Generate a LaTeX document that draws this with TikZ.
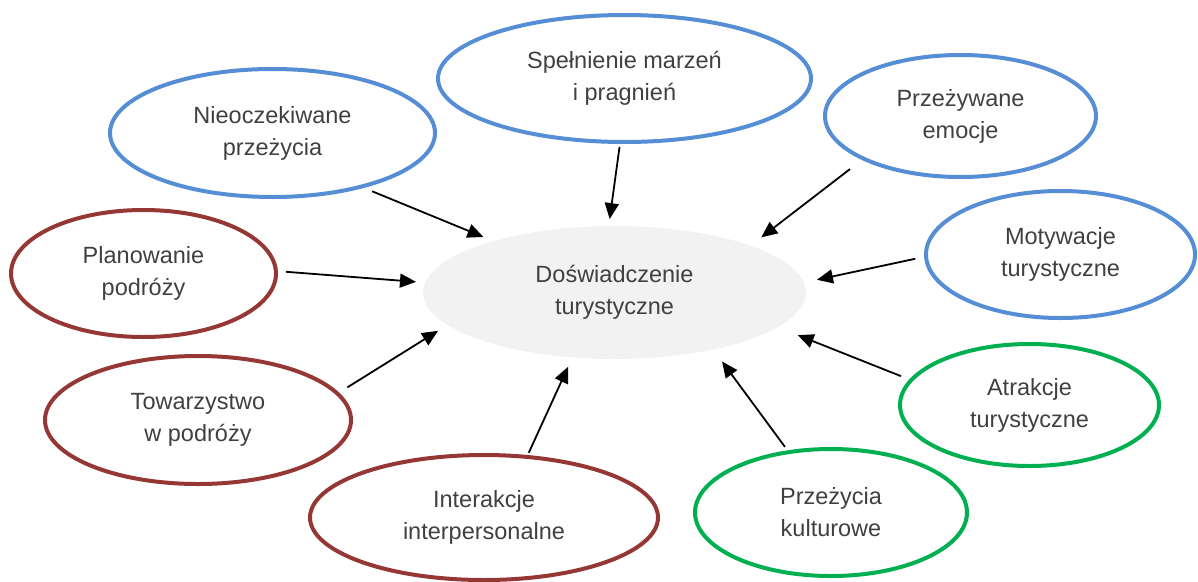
\documentclass[tikz,border=0pt]{standalone}
\usepackage{fontspec}
\setmainfont{Liberation Sans}
\usetikzlibrary{arrows.meta, positioning, shapes.geometric}

\definecolor{niebieski}{HTML}{558ED5}
\definecolor{czerwony}{HTML}{953735}
\definecolor{zielony}{HTML}{00B050}
\definecolor{tekst}{HTML}{404040}
\definecolor{szary}{HTML}{F2F2F2}

\tikzset{
  czynnik/.style={ellipse, draw, line width=4pt, inner sep=0pt, align=center,
    text=tekst, font=\fontsize{23.5}{32}\selectfont},
  niebieskie/.style={czynnik, draw=niebieski},
  zielone/.style={czynnik, draw=zielony},
  czerwone/.style={czynnik, draw=czerwony},
  srodek/.style={ellipse, fill=szary, inner sep=0pt, outer sep=0pt, align=center,
    text=tekst, font=\fontsize{23.5}{32}\selectfont},
  strzalka/.style={-{Triangle[length=16pt,width=14pt]}, line width=1.8pt}
}

\begin{document}
\begin{tikzpicture}[x=1pt, y=-1pt]
    \useasboundingbox (0,0) rectangle (1198,581);

    % Srodek
    \node[srodek, minimum width=383pt, minimum height=133pt] (dosw) at (614.5,292.5) {Doświadczenie\\turystyczne};

    % Czynniki (niebieskie)
    \node[niebieskie, minimum width=325pt, minimum height=128pt] (niespodz) at (272.5,133) {Nieoczekiwane\\przeżycia};
    \node[niebieskie, minimum width=373pt, minimum height=127pt] (marzenia) at (624.5,78.5) {Spełnienie marzeń\\i pragnień};
    \node[niebieskie, minimum width=271pt, minimum height=122pt] (emocje) at (960.5,116) {Przeżywane\\emocje};
    \node[niebieskie, minimum width=269pt, minimum height=127pt] (motyw) at (1060.5,254.5) {Motywacje\\turystyczne};

    % Czynniki (zielone)
    \node[zielone, minimum width=259pt, minimum height=122pt] (atrakcje) at (1029.5,405) {Atrakcje\\turystyczne};
    \node[zielone, minimum width=272pt, minimum height=127pt] (kultura) at (831,512.5) {Przeżycia\\kulturowe};

    % Czynniki (czerwone)
    \node[czerwone, minimum width=348pt, minimum height=125pt] (interakcje) at (484,517.5) {Interakcje\\interpersonalne};
    \node[czerwone, minimum width=306pt, minimum height=128pt] (towarz) at (198,420) {Towarzystwo\\w podróży};
    \node[czerwone, minimum width=265pt, minimum height=127pt] (plan) at (143.5,273.5) {Planowanie\\podróży};

    % Strzalki do srodka
    \draw[strzalka, shorten <=9pt, shorten >=10.6pt] (niespodz.-31.6) -- (dosw.157.1);
    \draw[strzalka, shorten <=3pt, shorten >=7pt] (marzenia.-94.6) -- (dosw.95.8);
    \draw[strzalka, shorten <=15pt, shorten >=13.7pt] (emocje.-156) -- (dosw.19.1);
    \draw[strzalka, shorten <=9pt, shorten >=13.4pt] (motyw.181.4) -- (dosw.3.25);
    \draw[strzalka, shorten <=9pt, shorten >=21.4pt] (atrakcje.168.2) -- (dosw.-12.95);
    \draw[strzalka, shorten <=4.3pt, shorten >=14.9pt] (kultura.125.7) -- (dosw.-30.05);
    \draw[strzalka, shorten <=2.4pt, shorten >=10.4pt] (interakcje.55.7) -- (dosw.-123.4);
    \draw[strzalka, shorten <=9.9pt, shorten >=11pt] (towarz.11.3) -- (dosw.191.4);
    \draw[strzalka, shorten <=8pt, shorten >=9.2pt] (plan.1) -- (dosw.177);
\end{tikzpicture}
\end{document}
